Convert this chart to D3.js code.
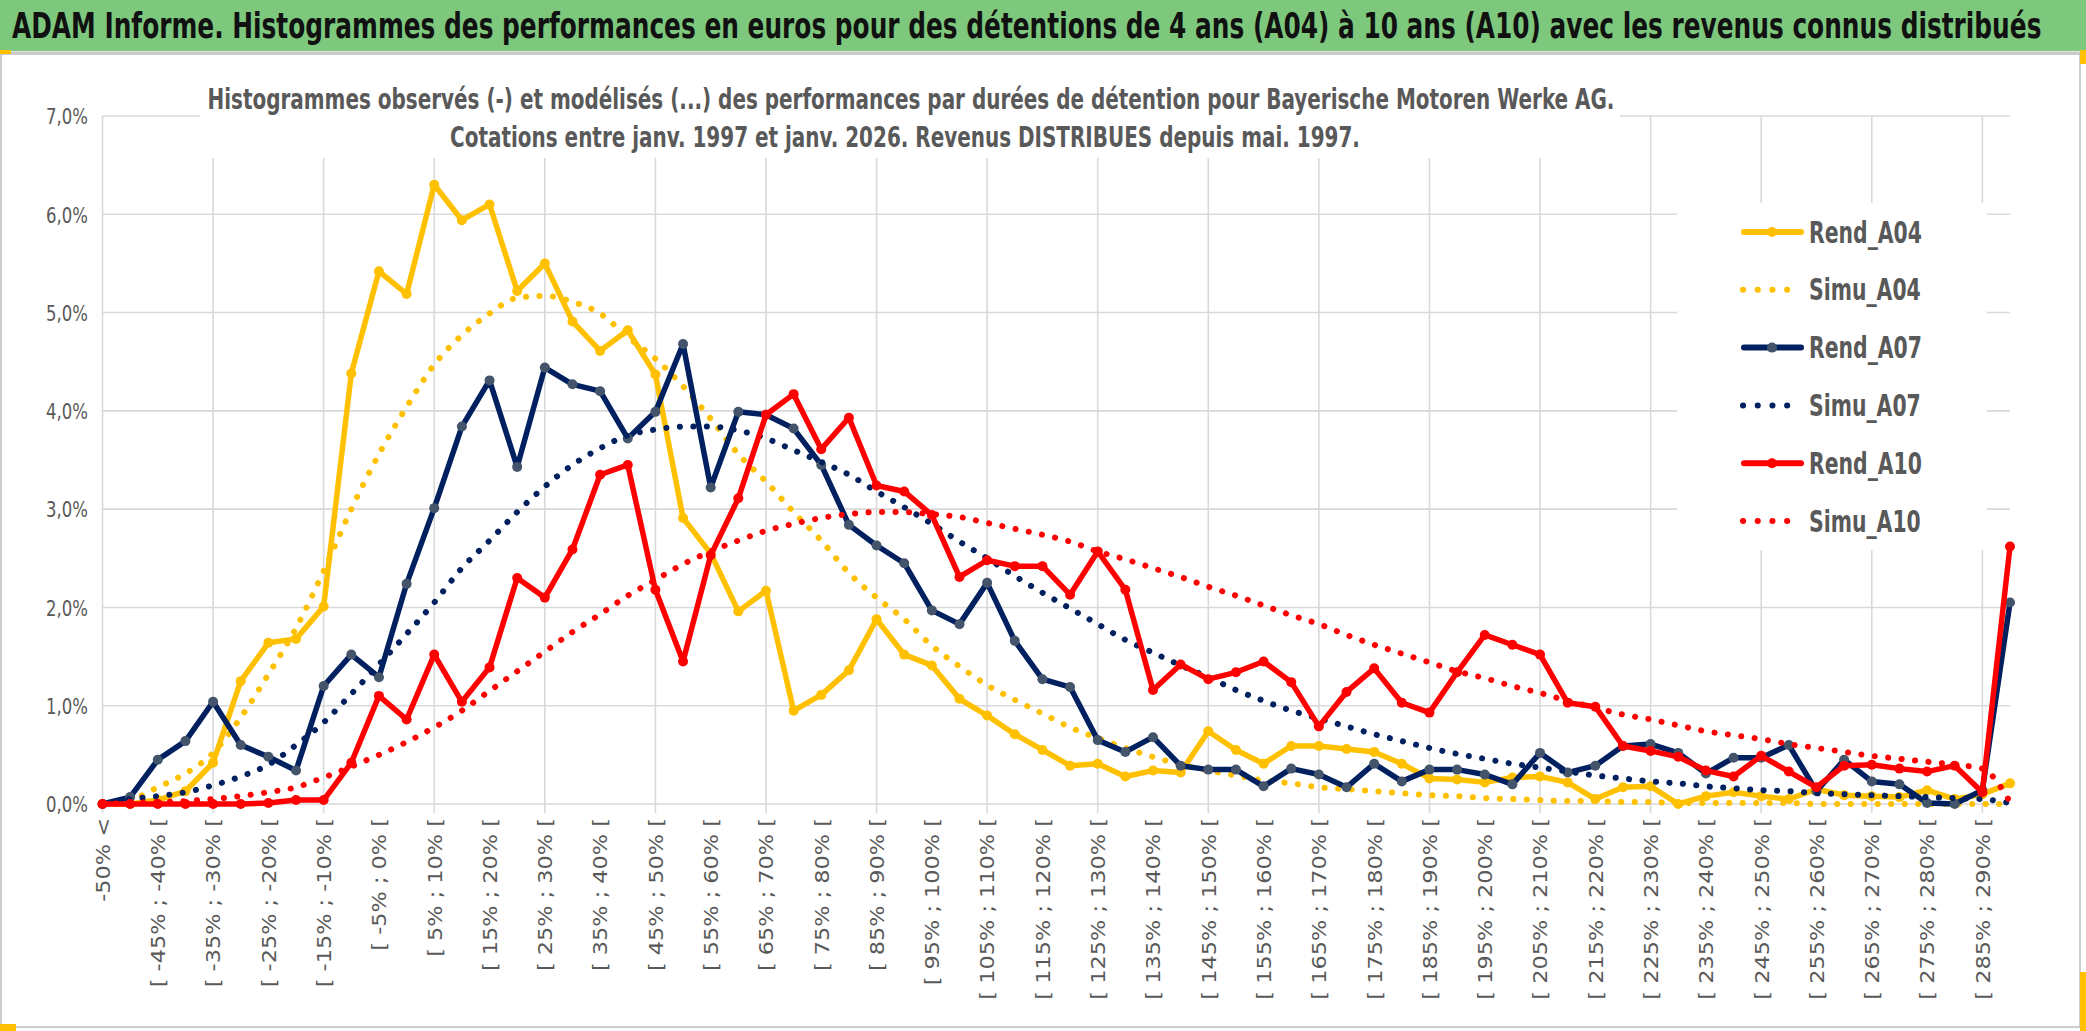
<!DOCTYPE html>
<html>
<head>
<meta charset="utf-8">
<script src="https://cdn.jsdelivr.net/npm/d3@7"></script>
<style>
body { margin: 0; background: #fff; }
svg { display: block; }
</style>
</head>
<body>
<svg width="2086" height="1031"></svg>
<script>
// categories (classes de performance)
var categories = [
"-50% <",
"[ -50% ; -45% [", "[ -45% ; -40% [", "[ -40% ; -35% [", "[ -35% ; -30% [", "[ -30% ; -25% [",
"[ -25% ; -20% [", "[ -20% ; -15% [", "[ -15% ; -10% [", "[ -10% ; -5% [", "[ -5% ; 0% [",
"[ 0% ; 5% [", "[ 5% ; 10% [", "[ 10% ; 15% [", "[ 15% ; 20% [", "[ 20% ; 25% [",
"[ 25% ; 30% [", "[ 30% ; 35% [", "[ 35% ; 40% [", "[ 40% ; 45% [", "[ 45% ; 50% [",
"[ 50% ; 55% [", "[ 55% ; 60% [", "[ 60% ; 65% [", "[ 65% ; 70% [", "[ 70% ; 75% [",
"[ 75% ; 80% [", "[ 80% ; 85% [", "[ 85% ; 90% [", "[ 90% ; 95% [", "[ 95% ; 100% [",
"[ 100% ; 105% [", "[ 105% ; 110% [", "[ 110% ; 115% [", "[ 115% ; 120% [", "[ 120% ; 125% [",
"[ 125% ; 130% [", "[ 130% ; 135% [", "[ 135% ; 140% [", "[ 140% ; 145% [", "[ 145% ; 150% [",
"[ 150% ; 155% [", "[ 155% ; 160% [", "[ 160% ; 165% [", "[ 165% ; 170% [", "[ 170% ; 175% [",
"[ 175% ; 180% [", "[ 180% ; 185% [", "[ 185% ; 190% [", "[ 190% ; 195% [", "[ 195% ; 200% [",
"[ 200% ; 205% [", "[ 205% ; 210% [", "[ 210% ; 215% [", "[ 215% ; 220% [", "[ 220% ; 225% [",
"[ 225% ; 230% [", "[ 230% ; 235% [", "[ 235% ; 240% [", "[ 240% ; 245% [", "[ 245% ; 250% [",
"[ 250% ; 255% [", "[ 255% ; 260% [", "[ 260% ; 265% [", "[ 265% ; 270% [", "[ 270% ; 275% [",
"[ 275% ; 280% [", "[ 280% ; 285% [", "[ 285% ; 290% [",
"290% >"
];

// values in %
var rendA04 = [
0.00, 0.00, 0.04, 0.13, 0.42, 1.25, 1.64, 1.68, 2.01, 4.38,
5.42, 5.19, 6.30, 5.94, 6.10, 5.22, 5.50, 4.91, 4.61, 4.82,
4.37, 2.91, 2.55, 1.96, 2.17, 0.95, 1.11, 1.36, 1.88, 1.52,
1.41, 1.07, 0.90, 0.71, 0.55, 0.39, 0.41, 0.28, 0.34, 0.32,
0.74, 0.55, 0.41, 0.59, 0.59, 0.56, 0.53, 0.41, 0.26, 0.25,
0.22, 0.27, 0.28, 0.22, 0.05, 0.17, 0.18, 0.00, 0.08, 0.12,
0.08, 0.05, 0.15, 0.09, 0.08, 0.07, 0.14, 0.05, 0.10, 0.21
];
var simuA04 = [
0.00, 0.04, 0.17, 0.31, 0.52, 0.88, 1.32, 1.79, 2.37, 3.00,
3.56, 4.04, 4.47, 4.77, 4.99, 5.15, 5.17, 5.11, 4.99, 4.75,
4.53, 4.25, 3.92, 3.56, 3.28, 2.97, 2.68, 2.35, 2.10, 1.88,
1.61, 1.40, 1.21, 1.06, 0.92, 0.78, 0.67, 0.57, 0.48, 0.40,
0.34, 0.29, 0.24, 0.21, 0.17, 0.15, 0.13, 0.11, 0.09, 0.08,
0.06, 0.05, 0.04, 0.03, 0.03, 0.02, 0.02, 0.01, 0.01, 0.01,
0.01, 0.01, 0.00, 0.00, 0.00, 0.00, 0.00, 0.00, 0.00, 0.00
];
var rendA07 = [
0.00, 0.07, 0.45, 0.64, 1.04, 0.60, 0.48, 0.34, 1.20, 1.52,
1.29, 2.24, 3.01, 3.84, 4.31, 3.43, 4.44, 4.27, 4.20, 3.72,
3.99, 4.68, 3.22, 3.99, 3.96, 3.82, 3.45, 2.84, 2.63, 2.45,
1.97, 1.83, 2.25, 1.66, 1.27, 1.19, 0.65, 0.53, 0.68, 0.39,
0.35, 0.35, 0.18, 0.36, 0.30, 0.17, 0.41, 0.23, 0.35, 0.35,
0.30, 0.20, 0.52, 0.32, 0.39, 0.59, 0.61, 0.52, 0.31, 0.47,
0.47, 0.60, 0.13, 0.45, 0.23, 0.20, 0.01, 0.00, 0.14, 2.05
];
var simuA07 = [
0.00, 0.05, 0.08, 0.12, 0.19, 0.28, 0.40, 0.60, 0.83, 1.12,
1.42, 1.73, 2.05, 2.40, 2.68, 2.97, 3.23, 3.45, 3.62, 3.75,
3.81, 3.84, 3.84, 3.80, 3.72, 3.60, 3.48, 3.35, 3.18, 3.02,
2.85, 2.67, 2.50, 2.32, 2.15, 1.99, 1.83, 1.67, 1.54, 1.41,
1.29, 1.16, 1.05, 0.95, 0.87, 0.79, 0.71, 0.64, 0.57, 0.51,
0.46, 0.41, 0.37, 0.33, 0.29, 0.26, 0.23, 0.21, 0.18, 0.16,
0.14, 0.13, 0.11, 0.10, 0.09, 0.08, 0.07, 0.06, 0.05, 0.01
];
var rendA10 = [
0.00, 0.00, 0.00, 0.00, 0.00, 0.00, 0.01, 0.04, 0.04, 0.42,
1.10, 0.86, 1.52, 1.04, 1.39, 2.30, 2.10, 2.59, 3.35, 3.45,
2.18, 1.45, 2.53, 3.11, 3.96, 4.17, 3.61, 3.93, 3.24, 3.18,
2.94, 2.31, 2.48, 2.42, 2.42, 2.13, 2.57, 2.18, 1.16, 1.42,
1.27, 1.34, 1.45, 1.24, 0.79, 1.14, 1.38, 1.03, 0.93, 1.34,
1.72, 1.62, 1.52, 1.03, 0.99, 0.59, 0.54, 0.48, 0.34, 0.28,
0.49, 0.33, 0.17, 0.39, 0.40, 0.36, 0.33, 0.39, 0.12, 2.62
];
var simuA10 = [
0.00, 0.01, 0.02, 0.03, 0.05, 0.08, 0.12, 0.17, 0.27, 0.38,
0.50, 0.63, 0.78, 0.95, 1.15, 1.35, 1.55, 1.75, 1.93, 2.12,
2.28, 2.44, 2.57, 2.68, 2.78, 2.85, 2.91, 2.95, 2.97, 2.97,
2.95, 2.92, 2.86, 2.80, 2.74, 2.67, 2.57, 2.49, 2.40, 2.31,
2.21, 2.12, 2.02, 1.92, 1.83, 1.72, 1.62, 1.53, 1.44, 1.35,
1.28, 1.20, 1.13, 1.05, 0.98, 0.91, 0.86, 0.80, 0.74, 0.70,
0.66, 0.61, 0.57, 0.53, 0.49, 0.46, 0.43, 0.40, 0.36, 0.02
];
var yTicks = [0, 1, 2, 3, 4, 5, 6, 7];

var series = [
{ name: "Rend_A04", values: rendA04, color: "#FFC000", marker: "#FFC000", dotted: false },
{ name: "Simu_A04", values: simuA04, color: "#FFC000", dotted: true },
{ name: "Rend_A07", values: rendA07, color: "#002060", marker: "#44546A", dotted: false },
{ name: "Simu_A07", values: simuA07, color: "#002060", dotted: true },
{ name: "Rend_A10", values: rendA10, color: "#FF0000", marker: "#FF0000", dotted: false },
{ name: "Simu_A10", values: simuA10, color: "#FF0000", dotted: true }
];

var narrow = "'Liberation Sans Narrow', 'DejaVu Sans Condensed', 'Roboto Condensed', 'Liberation Sans', sans-serif";
var grid = "#D9D9D9";
var grey = "#595959";

var svg = d3.select("svg");

// fits a text to a width, then stretches it up to a cap height
var stretchText = function(t, width, capH) {
  var len = t.node().getComputedTextLength();
  var fs = +t.attr("font-size") * width / len;
  t.attr("font-size", fs);
  return capH / (0.72 * fs);
};

svg.append("rect")
.attr("width", 2086)
.attr("height", 1031)
.attr("fill", "#fff");

// title bar
svg.append("rect")
.attr("x", 0)
.attr("y", 0)
.attr("width", 2086)
.attr("height", 51)
.attr("fill", "#7DC87D");

svg.append("line")
.attr("x1", 0).attr("x2", 2086)
.attr("y1", 52.5).attr("y2", 52.5)
.attr("stroke", "#C8C8C8")
.attr("stroke-width", 2);

var title = svg.append("text")
.attr("font-family", narrow)
.attr("font-weight", "bold")
.attr("font-size", 30)
.attr("fill", "#111")
.text("ADAM Informe. Histogrammes des performances en euros pour des détentions de 4 ans (A04) à 10 ans (A10) avec les revenus connus distribués");
var sy = stretchText(title, 2030, 25);
title.attr("transform", "translate(12,38) scale(1," + sy + ")");

// chart frame
svg.append("rect")
.attr("x", 1)
.attr("y", 54)
.attr("width", 2079)
.attr("height", 973)
.attr("fill", "none")
.attr("stroke", "#BFBFBF")
.attr("stroke-width", 1.5);

var x = d3.scalePoint()
.domain(categories)
.range([102.5, 2010]);

var y = d3.scaleLinear()
.domain([0, 7])
.range([804, 116]);

var fr = d3.formatLocale({ decimal: ",", thousands: " ", grouping: [3], currency: ["", " €"] });
var pct = fr.format(".1f");

// gridlines
var gridLayer = svg.append("g");
gridLayer.selectAll("line.h")
.data(yTicks)
.enter().append("line")
.attr("class", "h")
.attr("x1", 102.5)
.attr("x2", 2010)
.attr("y1", function(d) { return y(d); })
.attr("y2", function(d) { return y(d); })
.attr("stroke", grid)
.attr("stroke-width", 1.6);

var every4 = categories.filter(function(d, i) { return i % 4 === 0; });
gridLayer.selectAll("line.v")
.data(every4)
.enter().append("line")
.attr("class", "v")
.attr("x1", function(d) { return x(d); })
.attr("x2", function(d) { return x(d); })
.attr("y1", y(7))
.attr("y2", y(0) + 9)
.attr("stroke", grid)
.attr("stroke-width", 1.6);

// y axis labels
var yAxis = svg.append("g")
.attr("transform", "translate(90,0)")
.call(d3.axisLeft(y).tickValues(yTicks).tickSize(0).tickPadding(0)
  .tickFormat(function(d) { return pct(d) + "%"; }));
yAxis.select(".domain").remove();
yAxis.selectAll("text")
.attr("font-family", "'DejaVu Sans', sans-serif")
.attr("font-size", 16.5)
.attr("fill", grey)
.attr("x", -2)
.attr("dy", "0.36em")
.attr("transform", "scale(1,1.3)");

// x axis labels
var xAxis = svg.append("g")
.attr("transform", "translate(0," + y(0) + ")")
.call(d3.axisBottom(x)
  .tickValues(categories.filter(function(d, i) { return i % 2 === 0; }))
  .tickSize(0));
xAxis.select(".domain").remove();
xAxis.selectAll("text")
.attr("font-family", "'DejaVu Sans', sans-serif")
.attr("font-size", 19)
.attr("fill", grey)
.attr("x", 0)
.attr("y", 0)
.attr("dy", "0.36em")
.attr("text-anchor", "end")
.attr("transform", "translate(0,14) scale(1,1.18) rotate(-90)");

// subtitle box
svg.append("rect")
.attr("x", 200)
.attr("y", 62)
.attr("width", 1420)
.attr("height", 96)
.attr("fill", "#fff");

var sub1 = svg.append("text")
.attr("font-family", narrow)
.attr("font-weight", "bold")
.attr("font-size", 20)
.attr("fill", grey)
.attr("text-anchor", "middle")
.text("Histogrammes observés (-) et modélisés (...) des performances par durées de détention pour Bayerische Motoren Werke AG.");
var sy2 = stretchText(sub1, 1408, 20);
sub1.attr("transform", "translate(911,109) scale(1," + sy2 + ")");

svg.append("text")
.attr("font-family", narrow)
.attr("font-weight", "bold")
.attr("font-size", sub1.attr("font-size"))
.attr("fill", grey)
.attr("text-anchor", "middle")
.attr("transform", "translate(905,147) scale(1," + sy2 + ")")
.text("Cotations entre janv. 1997 et janv. 2026. Revenus DISTRIBUES depuis mai. 1997.");

// series
var lineGen = d3.line()
.x(function(d, i) { return x(categories[i]); })
.y(function(d) { return y(d); });
var smoothGen = d3.line()
.x(function(d, i) { return x(categories[i]); })
.y(function(d) { return y(d); })
.curve(d3.curveMonotoneX);

var plot = svg.append("g");
series.forEach(function(s) {
  var g = plot.append("g");
  if (s.dotted) {
    g.append("path")
    .attr("d", smoothGen(s.values))
    .attr("fill", "none")
    .attr("stroke", s.color)
    .attr("stroke-width", 6)
    .attr("stroke-linecap", "round")
    .attr("stroke-dasharray", "0.1,13.4");
  } else {
    g.append("path")
    .attr("d", lineGen(s.values))
    .attr("fill", "none")
    .attr("stroke", s.color)
    .attr("stroke-width", 5.5)
    .attr("stroke-linejoin", "round");
    g.selectAll("circle")
    .data(s.values)
    .enter().append("circle")
    .attr("cx", function(d, i) { return x(categories[i]); })
    .attr("cy", function(d) { return y(d); })
    .attr("r", 5)
    .attr("fill", s.marker);
  }
});

// legend
svg.append("rect")
.attr("x", 1677)
.attr("y", 203)
.attr("width", 310)
.attr("height", 347)
.attr("fill", "#fff");

var legend = svg.append("g");
var legendSy = null;
series.forEach(function(s, k) {
  var ly = 232 + k * 57.8;
  var g = legend.append("g");
  if (s.dotted) {
    g.append("line")
    .attr("x1", 1743).attr("x2", k === 5 ? 1800 : 1789)
    .attr("y1", ly).attr("y2", ly)
    .attr("stroke", s.color)
    .attr("stroke-width", 6)
    .attr("stroke-linecap", "round")
    .attr("stroke-dasharray", "0.1,14.6");
  } else {
    g.append("line")
    .attr("x1", 1744).attr("x2", 1801)
    .attr("y1", ly).attr("y2", ly)
    .attr("stroke", s.color)
    .attr("stroke-width", 6)
    .attr("stroke-linecap", "round");
    g.append("circle")
    .attr("cx", 1772)
    .attr("cy", ly)
    .attr("r", 5)
    .attr("fill", s.marker);
  }
  var t = g.append("text")
  .attr("font-family", narrow)
  .attr("font-weight", "bold")
  .attr("font-size", 24)
  .attr("fill", grey)
  .text(s.name);
  if (legendSy === null) {
    legendSy = stretchText(t, 113, 21.5);
  } else {
    t.attr("font-size", legend.select("text").attr("font-size"));
  }
  t.attr("transform", "translate(1809," + (ly + 10.5) + ") scale(1," + legendSy + ")");
});

// selection handles of the frame
svg.append("rect").attr("x", 0).attr("y", 50).attr("width", 11).attr("height", 4).attr("fill", "#FFC000");
svg.append("rect").attr("x", 2080).attr("y", 50).attr("width", 6).attr("height", 14).attr("fill", "#FFC000");
svg.append("rect").attr("x", 2080).attr("y", 972).attr("width", 6).attr("height", 59).attr("fill", "#FFC000");
svg.append("rect").attr("x", 0).attr("y", 1024).attr("width", 16).attr("height", 7).attr("fill", "#FFC000");
</script>
</body>
</html>
